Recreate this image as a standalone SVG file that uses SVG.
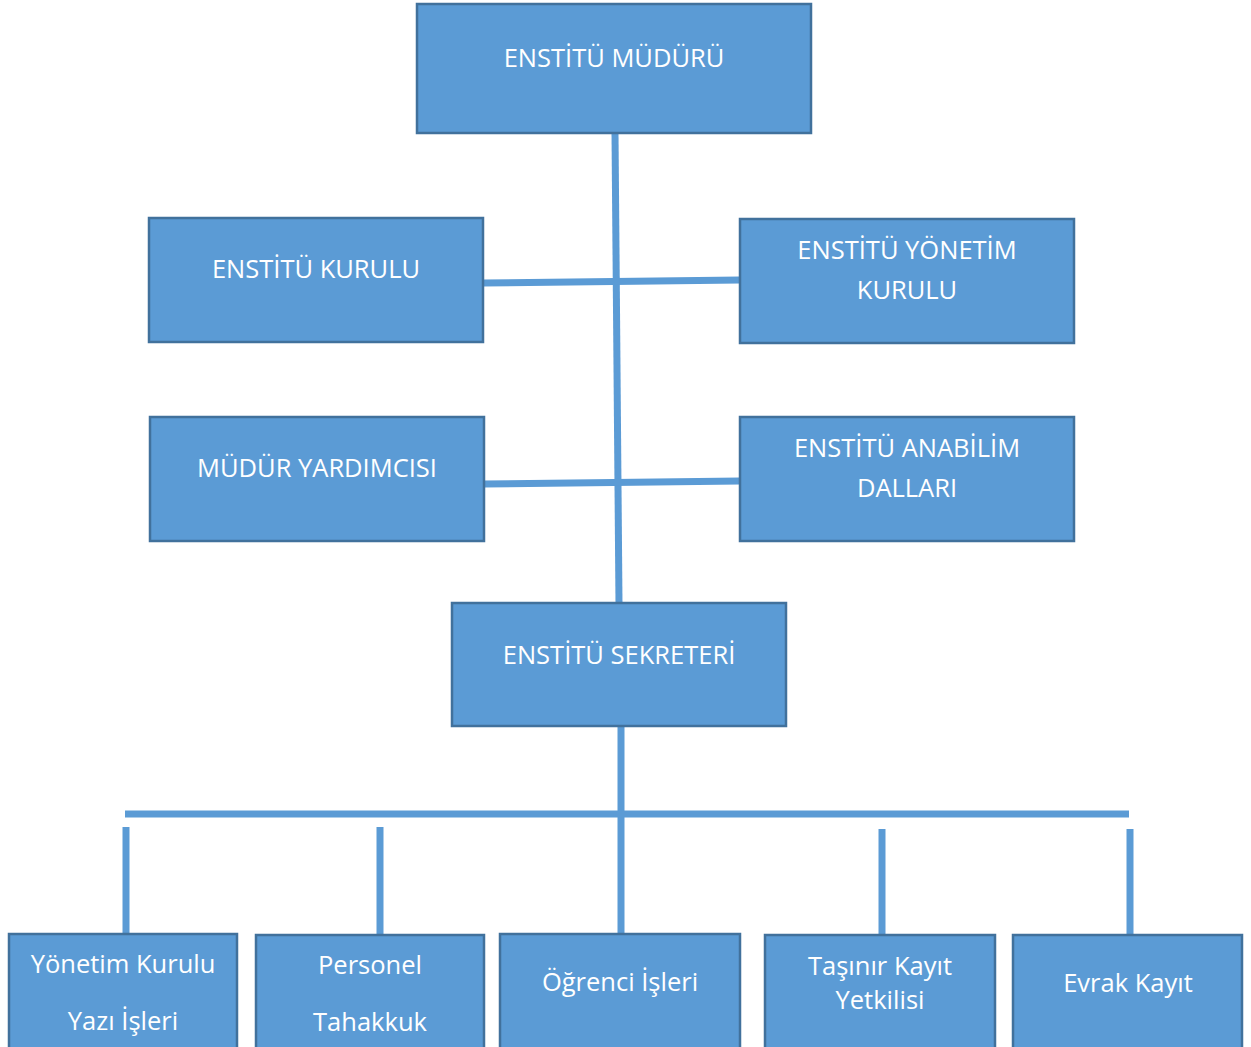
<svg xmlns="http://www.w3.org/2000/svg" width="1251" height="1047" viewBox="0 0 1251 1047">
<style>
.box{fill:#5B9BD5;stroke:#41719C;stroke-width:2.5}
.t{fill:#ffffff;font-family:"Open Sans","Noto Sans","DejaVu Sans",sans-serif;font-size:25.5px;text-anchor:middle}
.c{stroke:#5B9BD5;stroke-width:7;fill:none}
</style>
<rect width="1251" height="1047" fill="#ffffff"/>
<g id="connectors">
<line class="c" x1="615" y1="133" x2="619" y2="604"/>
<line class="c" x1="483" y1="283" x2="740" y2="280"/>
<line class="c" x1="484" y1="484" x2="740" y2="481"/>
<line class="c" x1="621" y1="726" x2="621" y2="935"/>
<line class="c" x1="125" y1="814" x2="1129" y2="814"/>
<line class="c" x1="126" y1="827" x2="126" y2="935"/>
<line class="c" x1="380" y1="827" x2="380" y2="935"/>
<line class="c" x1="882" y1="829" x2="882" y2="935"/>
<line class="c" x1="1130" y1="829" x2="1130" y2="935"/>
</g>
<g id="n-mudur"><rect class="box" x="417" y="4" width="394" height="129"/><text class="t" x="614" y="67">ENSTİTÜ MÜDÜRÜ</text></g>
<g id="n-kurulu"><rect class="box" x="149" y="218" width="334" height="124"/><text class="t" x="316" y="278">ENSTİTÜ KURULU</text></g>
<g id="n-yonetim"><rect class="box" x="740" y="219" width="334" height="124"/><text class="t" x="907" y="259">ENSTİTÜ YÖNETİM</text><text class="t" x="907" y="299">KURULU</text></g>
<g id="n-yardimci"><rect class="box" x="150" y="417" width="334" height="124"/><text class="t" x="317" y="477">MÜDÜR YARDIMCISI</text></g>
<g id="n-anabilim"><rect class="box" x="740" y="417" width="334" height="124"/><text class="t" x="907" y="457">ENSTİTÜ ANABİLİM</text><text class="t" x="907" y="497">DALLARI</text></g>
<g id="n-sekreter"><rect class="box" x="452" y="603" width="334" height="123"/><text class="t" x="619" y="664">ENSTİTÜ SEKRETERİ</text></g>
<g id="n-yazi"><rect class="box" x="9" y="934" width="228" height="120"/><text class="t" x="123" y="973">Yönetim Kurulu</text><text class="t" x="123" y="1030">Yazı İşleri</text></g>
<g id="n-personel"><rect class="box" x="256" y="935" width="228" height="120"/><text class="t" x="370" y="974">Personel</text><text class="t" x="370" y="1031">Tahakkuk</text></g>
<g id="n-ogrenci"><rect class="box" x="500" y="934" width="240" height="120"/><text class="t" x="620" y="991">Öğrenci İşleri</text></g>
<g id="n-tasinir"><rect class="box" x="765" y="935" width="230" height="120"/><text class="t" x="880" y="975">Taşınır Kayıt</text><text class="t" x="880" y="1009">Yetkilisi</text></g>
<g id="n-evrak"><rect class="box" x="1013" y="935" width="229" height="120"/><text class="t" x="1128" y="992">Evrak Kayıt</text></g>
</svg>
